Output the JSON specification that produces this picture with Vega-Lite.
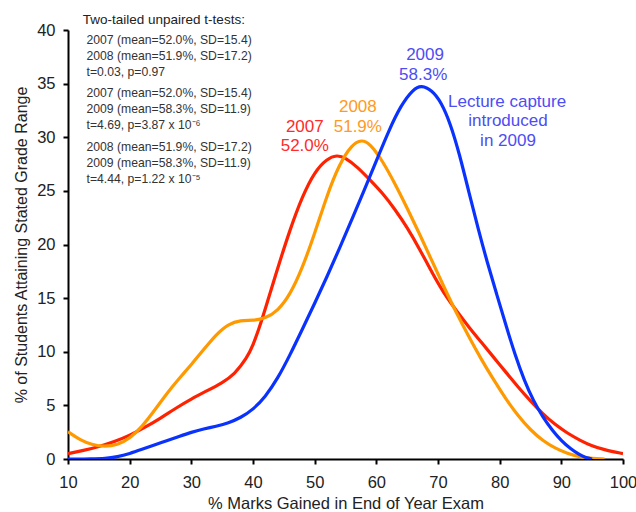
{
  "$schema": "https://vega.github.io/schema/vega-lite/v6.json",
  "width": 555,
  "height": 429,
  "autosize": "none",
  "padding": {"left": 68, "top": 30, "right": 13, "bottom": 53},
  "background": "white",
  "config": {
    "font": "Liberation Sans",
    "view": {"stroke": null},
    "axis": {
      "grid": false,
      "domainColor": "#000000",
      "domainWidth": 2,
      "tickColor": "#000000",
      "tickWidth": 2,
      "tickSize": 5,
      "labelFont": "Liberation Sans",
      "labelFontSize": 16.5,
      "labelColor": "#222222",
      "titleFont": "Liberation Sans",
      "titleFontWeight": "normal",
      "titleColor": "#222222"
    }
  },
  "datasets": {
    "curves": [
      {"year": "2007", "x": 10, "y": 0.5}, {"year": "2007", "x": 12.5, "y": 0.8}, {"year": "2007", "x": 15, "y": 1.15}, {"year": "2007", "x": 17.5, "y": 1.6}, {"year": "2007", "x": 20, "y": 2.2}, {"year": "2007", "x": 22.5, "y": 2.95}, {"year": "2007", "x": 25, "y": 3.8}, {"year": "2007", "x": 27.5, "y": 4.75}, {"year": "2007", "x": 30, "y": 5.6}, {"year": "2007", "x": 32.5, "y": 6.35}, {"year": "2007", "x": 35, "y": 7.1}, {"year": "2007", "x": 37, "y": 7.9}, {"year": "2007", "x": 39, "y": 9.4}, {"year": "2007", "x": 40, "y": 10.6}, {"year": "2007", "x": 41, "y": 12.2}, {"year": "2007", "x": 42, "y": 14.0}, {"year": "2007", "x": 44, "y": 17.8}, {"year": "2007", "x": 46, "y": 21.4}, {"year": "2007", "x": 48, "y": 24.5}, {"year": "2007", "x": 50, "y": 26.8}, {"year": "2007", "x": 52, "y": 28.0}, {"year": "2007", "x": 53.6, "y": 28.35}, {"year": "2007", "x": 55, "y": 28.1}, {"year": "2007", "x": 57, "y": 27.2}, {"year": "2007", "x": 59, "y": 26.0}, {"year": "2007", "x": 61, "y": 24.8}, {"year": "2007", "x": 63, "y": 23.3}, {"year": "2007", "x": 65, "y": 21.6}, {"year": "2007", "x": 67, "y": 19.6}, {"year": "2007", "x": 69, "y": 17.4}, {"year": "2007", "x": 71, "y": 15.4}, {"year": "2007", "x": 73, "y": 13.8}, {"year": "2007", "x": 75, "y": 12.3}, {"year": "2007", "x": 77, "y": 10.9}, {"year": "2007", "x": 79, "y": 9.5}, {"year": "2007", "x": 81, "y": 8.1}, {"year": "2007", "x": 83, "y": 6.7}, {"year": "2007", "x": 85, "y": 5.4}, {"year": "2007", "x": 87, "y": 4.2}, {"year": "2007", "x": 89, "y": 3.2}, {"year": "2007", "x": 91, "y": 2.4}, {"year": "2007", "x": 93, "y": 1.75}, {"year": "2007", "x": 95, "y": 1.2}, {"year": "2007", "x": 97, "y": 0.85}, {"year": "2007", "x": 100, "y": 0.5},
      {"year": "2008", "x": 10, "y": 2.55}, {"year": "2008", "x": 12, "y": 1.75}, {"year": "2008", "x": 14, "y": 1.3}, {"year": "2008", "x": 16, "y": 1.15}, {"year": "2008", "x": 18, "y": 1.3}, {"year": "2008", "x": 20, "y": 1.9}, {"year": "2008", "x": 22, "y": 3.0}, {"year": "2008", "x": 24, "y": 4.5}, {"year": "2008", "x": 26, "y": 6.1}, {"year": "2008", "x": 28, "y": 7.5}, {"year": "2008", "x": 30, "y": 8.8}, {"year": "2008", "x": 32, "y": 10.2}, {"year": "2008", "x": 34, "y": 11.6}, {"year": "2008", "x": 36, "y": 12.6}, {"year": "2008", "x": 38, "y": 12.95}, {"year": "2008", "x": 40, "y": 12.9}, {"year": "2008", "x": 42, "y": 13.1}, {"year": "2008", "x": 44, "y": 13.8}, {"year": "2008", "x": 46, "y": 15.3}, {"year": "2008", "x": 48, "y": 17.8}, {"year": "2008", "x": 50, "y": 21.0}, {"year": "2008", "x": 52, "y": 24.6}, {"year": "2008", "x": 54, "y": 27.5}, {"year": "2008", "x": 56, "y": 29.3}, {"year": "2008", "x": 57.6, "y": 29.8}, {"year": "2008", "x": 59, "y": 29.4}, {"year": "2008", "x": 61, "y": 27.8}, {"year": "2008", "x": 63, "y": 25.7}, {"year": "2008", "x": 65, "y": 23.4}, {"year": "2008", "x": 67, "y": 21.0}, {"year": "2008", "x": 69, "y": 18.5}, {"year": "2008", "x": 71, "y": 16.0}, {"year": "2008", "x": 73, "y": 13.6}, {"year": "2008", "x": 75, "y": 11.4}, {"year": "2008", "x": 77, "y": 9.3}, {"year": "2008", "x": 79, "y": 7.4}, {"year": "2008", "x": 81, "y": 5.6}, {"year": "2008", "x": 83, "y": 4.0}, {"year": "2008", "x": 85, "y": 2.7}, {"year": "2008", "x": 87, "y": 1.7}, {"year": "2008", "x": 89, "y": 1.0}, {"year": "2008", "x": 91, "y": 0.5}, {"year": "2008", "x": 93, "y": 0.2}, {"year": "2008", "x": 95, "y": 0.05}, {"year": "2008", "x": 97, "y": 0.0},
      {"year": "2009", "x": 10, "y": 0.0}, {"year": "2009", "x": 14, "y": 0.0}, {"year": "2009", "x": 16, "y": 0.03}, {"year": "2009", "x": 18, "y": 0.2}, {"year": "2009", "x": 20, "y": 0.5}, {"year": "2009", "x": 22, "y": 0.9}, {"year": "2009", "x": 24, "y": 1.3}, {"year": "2009", "x": 26, "y": 1.7}, {"year": "2009", "x": 28, "y": 2.1}, {"year": "2009", "x": 30, "y": 2.5}, {"year": "2009", "x": 32, "y": 2.8}, {"year": "2009", "x": 34, "y": 3.05}, {"year": "2009", "x": 36, "y": 3.35}, {"year": "2009", "x": 38, "y": 3.85}, {"year": "2009", "x": 40, "y": 4.6}, {"year": "2009", "x": 42, "y": 5.8}, {"year": "2009", "x": 44, "y": 7.5}, {"year": "2009", "x": 46, "y": 9.7}, {"year": "2009", "x": 48, "y": 12.1}, {"year": "2009", "x": 50, "y": 14.5}, {"year": "2009", "x": 52, "y": 17.0}, {"year": "2009", "x": 54, "y": 19.6}, {"year": "2009", "x": 56, "y": 22.3}, {"year": "2009", "x": 58, "y": 25.0}, {"year": "2009", "x": 60, "y": 27.8}, {"year": "2009", "x": 62, "y": 30.6}, {"year": "2009", "x": 64, "y": 33.0}, {"year": "2009", "x": 66, "y": 34.5}, {"year": "2009", "x": 67.3, "y": 34.85}, {"year": "2009", "x": 69, "y": 34.4}, {"year": "2009", "x": 70.5, "y": 33.3}, {"year": "2009", "x": 72, "y": 31.3}, {"year": "2009", "x": 73.5, "y": 28.4}, {"year": "2009", "x": 75, "y": 24.9}, {"year": "2009", "x": 76.5, "y": 21.5}, {"year": "2009", "x": 78, "y": 18.3}, {"year": "2009", "x": 79.5, "y": 15.4}, {"year": "2009", "x": 81, "y": 12.5}, {"year": "2009", "x": 82.5, "y": 9.7}, {"year": "2009", "x": 84, "y": 7.3}, {"year": "2009", "x": 85.5, "y": 5.4}, {"year": "2009", "x": 87, "y": 3.9}, {"year": "2009", "x": 88.5, "y": 2.7}, {"year": "2009", "x": 90, "y": 1.7}, {"year": "2009", "x": 91.5, "y": 0.95}, {"year": "2009", "x": 93, "y": 0.37}, {"year": "2009", "x": 94, "y": 0.1}, {"year": "2009", "x": 95, "y": 0.0}
    ],
    "blockTitle": [
      {"text": "Two-tailed unpaired t-tests:", "x": 12.4, "y": 40.9}
    ],
    "block": [
      {"text": "2007 (mean=52.0%, SD=15.4)", "x": 13.0, "y": 39.05},
      {"text": "2008 (mean=51.9%, SD=17.2)", "x": 13.0, "y": 37.6},
      {"text": "t=0.03, p=0.97", "x": 13.0, "y": 36.1},
      {"text": "2007 (mean=52.0%, SD=15.4)", "x": 13.0, "y": 34.15},
      {"text": "2009 (mean=58.3%, SD=11.9)", "x": 13.0, "y": 32.65},
      {"text": "t=4.69, p=3.87 x 10⁻⁶", "x": 13.0, "y": 31.1},
      {"text": "2008 (mean=51.9%, SD=17.2)", "x": 13.0, "y": 29.1},
      {"text": "2009 (mean=58.3%, SD=11.9)", "x": 13.0, "y": 27.6},
      {"text": "t=4.44, p=1.22 x 10⁻⁵", "x": 13.0, "y": 26.1}
    ],
    "labels": [
      {"series": "2007", "text": "2007", "x": 48.4, "y": 31.0},
      {"series": "2007", "text": "52.0%", "x": 48.4, "y": 29.15},
      {"series": "2008", "text": "2008", "x": 57.0, "y": 32.8},
      {"series": "2008", "text": "51.9%", "x": 57.0, "y": 30.95},
      {"series": "2009", "text": "2009", "x": 67.9, "y": 37.65},
      {"series": "2009", "text": "58.3%", "x": 67.6, "y": 35.8},
      {"series": "2009", "text": "Lecture capture", "x": 81.2, "y": 33.3},
      {"series": "2009", "text": "introduced", "x": 81.35, "y": 31.5},
      {"series": "2009", "text": "in 2009", "x": 81.35, "y": 29.65}
    ]
  },
  "layer": [
    {
      "data": {"name": "curves"},
      "mark": {"type": "line", "interpolate": "basis", "strokeWidth": 3.2, "clip": true},
      "encoding": {
        "x": {
          "field": "x", "type": "quantitative",
          "scale": {"domain": [10, 100], "nice": false, "zero": false},
          "axis": {
            "title": "% Marks Gained in End of Year Exam",
            "titleFontSize": 16.5,
            "titlePadding": 5,
            "labelPadding": 10,
            "values": [10, 15, 20, 25, 30, 35, 40, 45, 50, 55, 60, 65, 70, 75, 80, 85, 90, 95, 100],
            "labelExpr": "datum.value % 10 == 0 ? datum.label : ''",
            "labelFlush": false,
            "labelOverlap": false
          }
        },
        "y": {
          "field": "y", "type": "quantitative",
          "scale": {"domain": [0, 40], "nice": false},
          "axis": {
            "title": "% of Students Attaining Stated Grade Range",
            "titleFontSize": 16,
            "titlePadding": 7,
            "labelPadding": 8,
            "values": [0, 5, 10, 15, 20, 25, 30, 35, 40]
          }
        },
        "color": {
          "field": "year", "type": "nominal",
          "scale": {"domain": ["2007", "2008", "2009"], "range": ["#ff2200", "#ff9900", "#0a32ff"]},
          "legend": null
        }
      }
    },
    {
      "data": {"name": "blockTitle"},
      "mark": {"type": "text", "align": "left", "baseline": "middle", "fontSize": 13.5, "color": "#222222"},
      "encoding": {
        "x": {"field": "x", "type": "quantitative"},
        "y": {"field": "y", "type": "quantitative"},
        "text": {"field": "text"}
      }
    },
    {
      "data": {"name": "block"},
      "mark": {"type": "text", "align": "left", "baseline": "middle", "fontSize": 12.2, "color": "#333333"},
      "encoding": {
        "x": {"field": "x", "type": "quantitative"},
        "y": {"field": "y", "type": "quantitative"},
        "text": {"field": "text"}
      }
    },
    {
      "data": {"name": "labels"},
      "mark": {"type": "text", "align": "center", "baseline": "middle", "fontSize": 17},
      "encoding": {
        "x": {"field": "x", "type": "quantitative"},
        "y": {"field": "y", "type": "quantitative"},
        "text": {"field": "text"},
        "color": {
          "field": "series", "type": "nominal",
          "scale": {"domain": ["2007", "2008", "2009"], "range": ["#ff2a2a", "#ff9a22", "#4d4df5"]},
          "legend": null
        }
      }
    }
  ],
  "resolve": {"scale": {"color": "independent"}}
}
